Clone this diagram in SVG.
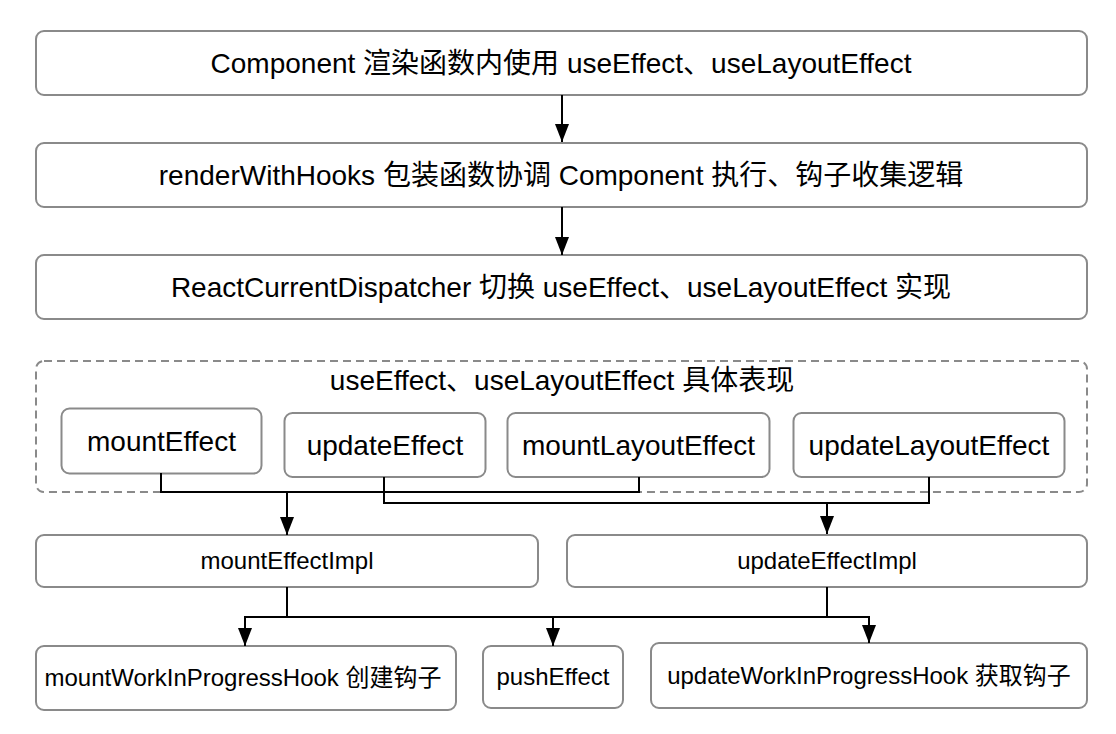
<svg xmlns="http://www.w3.org/2000/svg" width="1116" height="734" viewBox="0 0 1116 734">
<defs>
<style>
.box{fill:#fff;stroke:#8a8a8a;stroke-width:2}
.grp{fill:none;stroke:#8a8a8a;stroke-width:2;stroke-dasharray:8 5}
.t{font-family:"Liberation Sans","Noto Sans CJK SC",sans-serif;fill:#000;text-anchor:middle}
.big{font-size:28px}
.sm{font-size:24px}
.ln{fill:none;stroke:#000;stroke-width:2}
</style>
<marker id="ah" viewBox="0 0 18 14" refX="18" refY="7" markerWidth="18" markerHeight="14" markerUnits="userSpaceOnUse" orient="auto">
<path d="M0,0 L18,7 L0,14 Z" fill="#000"/>
</marker>
</defs>
<rect width="1116" height="734" fill="#fff"/>

<g id="group-effects">
<rect class="grp" x="36" y="361" width="1051" height="131" rx="8"/>
<text class="t big" x="562" y="390">useEffect、useLayoutEffect 具体表现</text>
</g>

<g id="n1">
<rect class="box" x="36" y="31" width="1051" height="64" rx="8"/>
<text class="t big" x="561" y="73">Component 渲染函数内使用 useEffect、useLayoutEffect</text>
</g>
<g id="n2">
<rect class="box" x="36" y="143" width="1051" height="64" rx="8"/>
<text class="t big" x="561" y="185">renderWithHooks 包装函数协调 Component 执行、钩子收集逻辑</text>
</g>
<g id="n3">
<rect class="box" x="36" y="255" width="1051" height="64" rx="8"/>
<text class="t big" x="561" y="297">ReactCurrentDispatcher 切换 useEffect、useLayoutEffect 实现</text>
</g>
<g id="n-mountEffect">
<rect class="box" x="61.5" y="408.5" width="200" height="65" rx="8"/>
<text class="t big" x="161.5" y="451">mountEffect</text>
</g>
<g id="n-updateEffect">
<rect class="box" x="284.5" y="413" width="201" height="64" rx="8"/>
<text class="t big" x="385" y="455">updateEffect</text>
</g>
<g id="n-mountLayoutEffect">
<rect class="box" x="507.5" y="413" width="262" height="64" rx="8"/>
<text class="t big" x="638.5" y="455">mountLayoutEffect</text>
</g>
<g id="n-updateLayoutEffect">
<rect class="box" x="793.5" y="413" width="271" height="64" rx="8"/>
<text class="t big" x="929" y="455">updateLayoutEffect</text>
</g>
<g id="n-mountEffectImpl">
<rect class="box" x="36" y="535" width="502" height="52" rx="8"/>
<text class="t sm" x="287" y="569">mountEffectImpl</text>
</g>
<g id="n-updateEffectImpl">
<rect class="box" x="567" y="535" width="520" height="52" rx="8"/>
<text class="t sm" x="827" y="569">updateEffectImpl</text>
</g>
<g id="n-mountWIP">
<rect class="box" x="36" y="646" width="420" height="64" rx="8"/>
<text class="t sm" x="243" y="686">mountWorkInProgressHook 创建钩子</text>
</g>
<g id="n-pushEffect">
<rect class="box" x="483" y="646" width="140" height="62" rx="8"/>
<text class="t sm" x="553" y="685">pushEffect</text>
</g>
<g id="n-updateWIP">
<rect class="box" x="651" y="643" width="436" height="65" rx="8"/>
<text class="t sm" x="869" y="684">updateWorkInProgressHook 获取钩子</text>
</g>

<g id="connectors">
<path class="ln" d="M562,95 V142" marker-end="url(#ah)"/>
<path class="ln" d="M562,207 V255" marker-end="url(#ah)"/>
<path class="ln" d="M161,473 V492 H639 V477"/>
<path class="ln" d="M384,477 V503 H929 V477"/>
<path class="ln" d="M287,492 V535" marker-end="url(#ah)"/>
<path class="ln" d="M827,503 V534" marker-end="url(#ah)"/>
<path class="ln" d="M287,587 V617 H245 V646" marker-end="url(#ah)"/>
<path class="ln" d="M287,617 H553 V646" marker-end="url(#ah)"/>
<path class="ln" d="M827,587 V617 H553"/>
<path class="ln" d="M827,617 H869 V643" marker-end="url(#ah)"/>
</g>
</svg>
